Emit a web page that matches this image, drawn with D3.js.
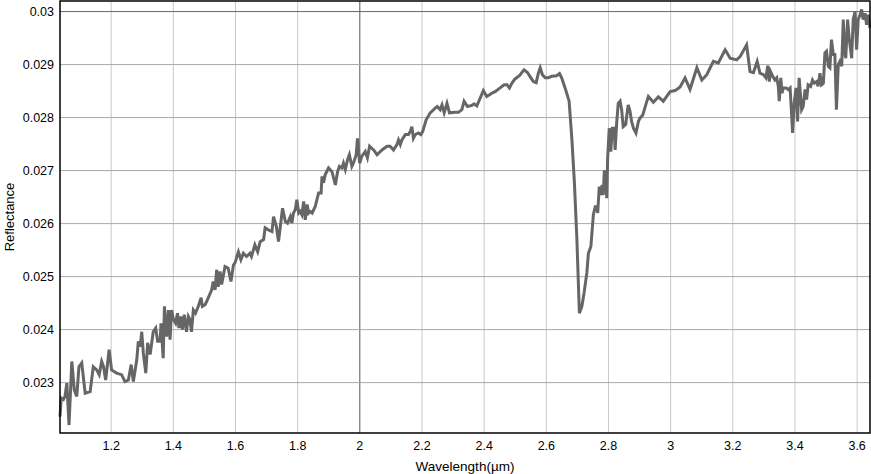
<!DOCTYPE html>
<html>
<head>
<meta charset="utf-8">
<script src="https://cdn.jsdelivr.net/npm/d3@7"></script>
<style>
  body { margin: 0; background: #fff; }
  text { font-family: "Liberation Sans", Arial, Helvetica, sans-serif; }
</style>
</head>
<body>
<svg id="spectrum" width="871" height="474"></svg>
<script>
// wavelength (um) and reflectance
var wavelength = [
  1.037, 1.041, 1.048, 1.053, 1.059, 1.066, 1.075, 1.083, 1.091, 1.098, 1.107, 1.118, 1.134, 1.144, 1.155, 1.163,
  1.171, 1.177, 1.184, 1.195, 1.203, 1.219, 1.235, 1.246, 1.257, 1.266, 1.273, 1.284, 1.289, 1.295, 1.300, 1.305,
  1.313, 1.319, 1.327, 1.337, 1.345, 1.351, 1.359, 1.362, 1.369, 1.373, 1.380, 1.386, 1.391, 1.396, 1.402, 1.409,
  1.415, 1.420, 1.426, 1.431, 1.437, 1.444, 1.450, 1.455, 1.460, 1.466, 1.473, 1.482, 1.491, 1.495, 1.504, 1.514,
  1.525, 1.530, 1.536, 1.541, 1.546, 1.552, 1.557, 1.568, 1.578, 1.587, 1.595, 1.600, 1.611, 1.619, 1.627, 1.637,
  1.648, 1.653, 1.664, 1.673,
  1.681, 1.692, 1.697, 1.708, 1.719, 1.724, 1.733, 1.740, 1.746, 1.753, 1.762, 1.769, 1.778, 1.783, 1.788, 1.794,
  1.799, 1.805, 1.810, 1.815, 1.821, 1.826, 1.832, 1.837, 1.842, 1.848, 1.858, 1.869, 1.877, 1.880, 1.885, 1.890,
  1.901, 1.912, 1.923, 1.930, 1.936, 1.944, 1.949, 1.955, 1.962, 1.968, 1.976, 1.981, 1.990, 1.994, 2.001, 2.008,
  2.019, 2.026, 2.033, 2.046, 2.057, 2.073, 2.089, 2.099, 2.110, 2.121, 2.126, 2.132, 2.137, 2.148, 2.158, 2.164,
  2.169, 2.174, 2.180, 2.190, 2.198, 2.204, 2.215, 2.228, 2.244, 2.251, 2.260, 2.266, 2.273, 2.282, 2.290,
  2.308, 2.319, 2.330, 2.337, 2.348, 2.362, 2.369, 2.378, 2.389, 2.399, 2.410, 2.419, 2.426, 2.437, 2.453, 2.466,
  2.475, 2.483, 2.491, 2.501, 2.515, 2.530, 2.541, 2.552, 2.560, 2.569, 2.576, 2.582, 2.589, 2.598, 2.608, 2.619,
  2.635, 2.644, 2.651, 2.662, 2.675, 2.684, 2.692, 2.700, 2.708, 2.716, 2.723, 2.732, 2.737, 2.745, 2.753, 2.759,
  2.764, 2.767, 2.772, 2.777, 2.781, 2.785, 2.788, 2.793, 2.796, 2.799, 2.804, 2.809, 2.814, 2.820, 2.823, 2.828,
  2.833, 2.839, 2.844, 2.849, 2.857, 2.865, 2.871, 2.876, 2.882, 2.890, 2.898, 2.903,
  2.912, 2.923, 2.930, 2.946, 2.962, 2.978, 2.989, 3.000, 3.016, 3.032,
  3.048, 3.064, 3.086, 3.102, 3.118, 3.139, 3.155, 3.177, 3.193, 3.214, 3.225, 3.246, 3.257, 3.268, 3.280, 3.289,
  3.300, 3.308, 3.314, 3.319, 3.323, 3.330, 3.337, 3.343, 3.348, 3.351, 3.356, 3.360, 3.364, 3.373, 3.380, 3.386,
  3.394, 3.399, 3.405, 3.410, 3.415, 3.423, 3.428, 3.434, 3.439, 3.444, 3.452, 3.458, 3.464, 3.471, 3.476, 3.482,
  3.487, 3.493, 3.498, 3.503, 3.509, 3.514, 3.519, 3.525, 3.530, 3.535, 3.541, 3.546, 3.552, 3.557, 3.562, 3.565,
  3.571, 3.576, 3.584, 3.589, 3.595, 3.600, 3.605, 3.611, 3.616, 3.621, 3.627, 3.632, 3.637, 3.643
];
var reflectance = [
  0.02235, 0.02270, 0.02267, 0.02273, 0.02298, 0.02219, 0.02339, 0.02285, 0.02273, 0.02329, 0.02336, 0.02279, 0.02282, 0.02329, 0.02323, 0.02314,
  0.02339, 0.02329, 0.02304, 0.02361, 0.02323, 0.02317, 0.02314, 0.02301, 0.02304, 0.02333, 0.02301, 0.02342, 0.02377, 0.02367, 0.02395, 0.02355,
  0.02317, 0.02374, 0.02352, 0.02395, 0.02402, 0.02377, 0.02377, 0.02411, 0.02345, 0.02443, 0.02386, 0.02436, 0.02380, 0.02436, 0.02418, 0.02411,
  0.02430, 0.02402, 0.02424, 0.02399, 0.02427, 0.02395, 0.02424, 0.02418, 0.02395, 0.02436, 0.02430, 0.02443, 0.02459, 0.02443, 0.02446, 0.02459,
  0.02474, 0.02490, 0.02474, 0.02512, 0.02480, 0.02509, 0.02484, 0.02518, 0.02515, 0.02490, 0.02521, 0.02525, 0.02546, 0.02531, 0.02543, 0.02537,
  0.02543, 0.02537, 0.02559, 0.02546,
  0.02565, 0.02569, 0.02591, 0.02587, 0.02584, 0.02612, 0.02594, 0.02565, 0.02594, 0.02628, 0.02603, 0.02600, 0.02612, 0.02600, 0.02619, 0.02625,
  0.02644, 0.02619, 0.02622, 0.02616, 0.02641, 0.02606, 0.02635, 0.02619, 0.02622, 0.02619, 0.02631, 0.02657, 0.02657, 0.02688, 0.02676, 0.02691,
  0.02704, 0.02697, 0.02672, 0.02697, 0.02707, 0.02704, 0.02713, 0.02701, 0.02719, 0.02729, 0.02707, 0.02713, 0.02729, 0.02760, 0.02713, 0.02726,
  0.02735, 0.02723, 0.02745, 0.02738, 0.02729, 0.02738, 0.02745, 0.02745, 0.02738, 0.02748, 0.02757, 0.02748, 0.02757, 0.02767, 0.02767, 0.02773,
  0.02782, 0.02760, 0.02767, 0.02770, 0.02767, 0.02773, 0.02795, 0.02808, 0.02817, 0.02820, 0.02814, 0.02823, 0.02808, 0.02826, 0.02808,
  0.02809, 0.02809, 0.02814, 0.02830, 0.02820, 0.02822, 0.02825, 0.02821, 0.02836, 0.02850, 0.02839, 0.02842, 0.02845, 0.02848, 0.02855, 0.02861,
  0.02861, 0.02855, 0.02864, 0.02872, 0.02878, 0.02889, 0.02884, 0.02874, 0.02867, 0.02865, 0.02883, 0.02893, 0.02880, 0.02874, 0.02874, 0.02877,
  0.02878, 0.02882, 0.02874, 0.02855, 0.02830, 0.02757, 0.02676, 0.02569, 0.02430, 0.02443, 0.02468, 0.02506, 0.02543, 0.02556, 0.02616, 0.02631,
  0.02631, 0.02619, 0.02669, 0.02653, 0.02672, 0.02653, 0.02697, 0.02697, 0.02647, 0.02723, 0.02779, 0.02735, 0.02779, 0.02779, 0.02738, 0.02789,
  0.02826, 0.02830, 0.02814, 0.02782, 0.02786, 0.02823, 0.02811, 0.02792, 0.02779, 0.02770, 0.02792, 0.02798,
  0.02804, 0.02826, 0.02839, 0.02828, 0.02838, 0.02830, 0.02839, 0.02848, 0.02850, 0.02857,
  0.02874, 0.02852, 0.02893, 0.02870, 0.02880, 0.02905, 0.02902, 0.02927, 0.02911, 0.02908, 0.02914, 0.02936, 0.02886, 0.02884, 0.02905, 0.02883,
  0.02880, 0.02874, 0.02897, 0.02867, 0.02886, 0.02877, 0.02870, 0.02874, 0.02858, 0.02830, 0.02874, 0.02845, 0.02855, 0.02855, 0.02852, 0.02855,
  0.02770, 0.02826, 0.02855, 0.02792, 0.02874, 0.02814, 0.02820, 0.02852, 0.02833, 0.02861, 0.02858, 0.02870, 0.02864, 0.02867, 0.02858, 0.02883,
  0.02861, 0.02864, 0.02921, 0.02924, 0.02896, 0.02893, 0.02946, 0.02918, 0.02918, 0.02814, 0.02899, 0.02905, 0.02896, 0.02984, 0.02921, 0.02911,
  0.02984, 0.02949, 0.02911, 0.02984, 0.02999, 0.02927, 0.02984, 0.02993, 0.03003, 0.02984, 0.02996, 0.02974, 0.02993, 0.02968
];

// axis ticks
var xTicks = [1.2, 1.4, 1.6, 1.8, 2, 2.2, 2.4, 2.6, 2.8, 3, 3.2, 3.4, 3.6];
var xTickLabels = ["1.2", "1.4", "1.6", "1.8", "2", "2.2", "2.4", "2.6", "2.8", "3", "3.2", "3.4", "3.6"];
var yTicks = [0.023, 0.024, 0.025, 0.026, 0.027, 0.028, 0.029, 0.03];
var yTickLabels = ["0.023", "0.024", "0.025", "0.026", "0.027", "0.028", "0.029", "0.03"];
var yMin = 0.02204;
var yMax = 0.03019;

var svg = d3.select("#spectrum");
var svgWidth = +svg.attr("width");
var svgHeight = +svg.attr("height");
var margin = { top: 1, right: 1, bottom: 41, left: 60 };
var chartWidth = svgWidth - margin.left - margin.right;
var chartHeight = svgHeight - margin.top - margin.bottom;

var points = wavelength.map(function (w, i) { return { wl: w, r: reflectance[i] }; });

// scales
var xScale = d3.scaleLinear()
  .domain(d3.extent(wavelength))
  .range([0, chartWidth]);
var yScale = d3.scaleLinear()
  .domain([yMin, yMax])
  .range([chartHeight, 0]);

var chart = svg.append("g")
  .attr("transform", "translate(" + margin.left + "," + margin.top + ")");

// vertical grid
chart.append("g")
  .attr("class", "x grid")
  .attr("transform", "translate(0," + chartHeight + ")")
  .call(d3.axisBottom(xScale).tickValues(xTicks).tickSize(-chartHeight).tickFormat(""))
  .call(function (g) { g.select(".domain").remove(); })
  .selectAll("line")
  .attr("stroke", function (d) { return d === 2 ? "#555" : "#c9c9c9"; })
  .attr("stroke-width", 1);

// horizontal grid
chart.append("g")
  .attr("class", "y grid")
  .call(d3.axisLeft(yScale).tickValues(yTicks).tickSize(-chartWidth).tickFormat(""))
  .call(function (g) { g.select(".domain").remove(); })
  .selectAll("line")
  .attr("stroke", function (d) { return d === 0.03 ? "#666" : "#a9a9a9"; })
  .attr("stroke-width", 1);

// spectrum line
var line = d3.line()
  .x(function (d) { return xScale(d.wl); })
  .y(function (d) { return yScale(d.r); });

chart.append("path")
  .datum(points)
  .attr("class", "line")
  .attr("fill", "none")
  .attr("stroke", "#666")
  .attr("stroke-width", 3)
  .attr("d", line);

// frame
chart.append("rect")
  .attr("x", 0)
  .attr("y", 0)
  .attr("width", chartWidth)
  .attr("height", chartHeight)
  .attr("fill", "none")
  .attr("stroke", "#000")
  .attr("stroke-width", 1.5);

// x axis labels
var xAxis = chart.append("g")
  .attr("class", "bottom axis")
  .attr("transform", "translate(0," + chartHeight + ")")
  .call(d3.axisBottom(xScale).tickValues(xTicks).tickSize(0).tickPadding(8)
    .tickFormat(function (d, i) { return xTickLabels[i]; }));
xAxis.select(".domain").remove();
xAxis.selectAll("text").attr("font-size", "12.5px").attr("fill", "#000")
  .style("font-family", "'Liberation Sans', Arial, sans-serif");

// y axis labels
var yAxis = chart.append("g")
  .attr("class", "left axis")
  .call(d3.axisLeft(yScale).tickValues(yTicks).tickSize(0).tickPadding(6)
    .tickFormat(function (d, i) { return yTickLabels[i]; }));
yAxis.select(".domain").remove();
yAxis.selectAll("text").attr("font-size", "12.5px").attr("fill", "#000")
  .style("font-family", "'Liberation Sans', Arial, sans-serif");

// axis titles
svg.append("text")
  .attr("class", "x axis label")
  .attr("x", margin.left + chartWidth / 2)
  .attr("y", svgHeight - 3)
  .attr("font-size", "13.5px")
  .attr("text-anchor", "middle")
  .text("Wavelength(µm)");

svg.append("text")
  .attr("class", "y axis label")
  .attr("x", -(margin.top + chartHeight / 2))
  .attr("y", 14)
  .attr("font-size", "13px")
  .attr("text-anchor", "middle")
  .attr("transform", "rotate(-90)")
  .text("Reflectance");
</script>
</body>
</html>
